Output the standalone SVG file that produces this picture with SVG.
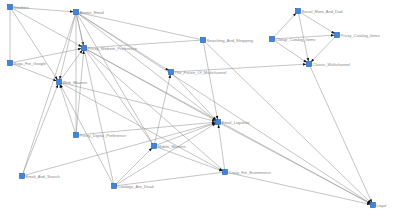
<svg xmlns="http://www.w3.org/2000/svg" width="400" height="218" viewBox="0 0 400 218">
<style>
.e{stroke:#959595;stroke-width:0.55;fill:none}
.a{marker-end:url(#ar)}
.n{fill:#3d86dc;stroke:#1d5aa8;stroke-width:0.6}
.t{font-family:"Liberation Sans",Arial,sans-serif;font-size:4px;fill:#858585}
</style>
<defs>
<marker id="ar" markerUnits="userSpaceOnUse" markerWidth="3.4" markerHeight="2.6" viewBox="0 0 3.4 2.6" refX="6" refY="1.3" orient="auto" overflow="visible">
<path d="M0,0 L3.4,1.3 L0,2.6 z" fill="#111"/>
</marker>
</defs>
<rect width="400" height="218" fill="#fff"/>
<g id="edges">
<line class="e a" x1="10" y1="7" x2="76" y2="12"/>
<line class="e" x1="10" y1="7" x2="10" y2="63"/>
<line class="e a" x1="10" y1="7" x2="84" y2="48"/>
<line class="e a" x1="10" y1="7" x2="59" y2="82"/>
<line class="e a" x1="10" y1="63" x2="84" y2="48"/>
<line class="e a" x1="10" y1="63" x2="59" y2="82"/>
<line class="e a" x1="76" y1="12" x2="84" y2="48"/>
<line class="e a" x1="76" y1="12" x2="59" y2="82"/>
<line class="e" x1="76" y1="12" x2="76" y2="135"/>
<line class="e" x1="76" y1="12" x2="22" y2="176"/>
<line class="e" x1="76" y1="12" x2="203" y2="40"/>
<line class="e" x1="76" y1="12" x2="114" y2="186"/>
<line class="e" x1="76" y1="12" x2="154" y2="146"/>
<line class="e a" x1="76" y1="12" x2="171" y2="72"/>
<line class="e a" x1="76" y1="12" x2="218" y2="122"/>
<line class="e a" x1="76" y1="12" x2="373" y2="205"/>
<line class="e a" x1="59" y1="82" x2="84" y2="48"/>
<line class="e" x1="84" y1="48" x2="203" y2="40"/>
<line class="e a" x1="76" y1="135" x2="84" y2="48"/>
<line class="e" x1="84" y1="48" x2="154" y2="146"/>
<line class="e a" x1="84" y1="48" x2="218" y2="122"/>
<line class="e" x1="84" y1="48" x2="225" y2="172"/>
<line class="e a" x1="84" y1="48" x2="373" y2="205"/>
<line class="e a" x1="76" y1="135" x2="59" y2="82"/>
<line class="e a" x1="22" y1="176" x2="59" y2="82"/>
<line class="e a" x1="114" y1="186" x2="59" y2="82"/>
<line class="e a" x1="59" y1="82" x2="218" y2="122"/>
<line class="e a" x1="59" y1="82" x2="225" y2="172"/>
<line class="e a" x1="76" y1="135" x2="218" y2="122"/>
<line class="e a" x1="22" y1="176" x2="218" y2="122"/>
<line class="e a" x1="154" y1="146" x2="218" y2="122"/>
<line class="e a" x1="114" y1="186" x2="218" y2="122"/>
<line class="e a" x1="171" y1="72" x2="218" y2="122"/>
<line class="e a" x1="203" y1="40" x2="218" y2="122"/>
<line class="e a" x1="225" y1="172" x2="218" y2="122"/>
<line class="e a" x1="154" y1="146" x2="171" y2="72"/>
<line class="e a" x1="114" y1="186" x2="154" y2="146"/>
<line class="e a" x1="154" y1="146" x2="225" y2="172"/>
<line class="e" x1="114" y1="186" x2="225" y2="172"/>
<line class="e a" x1="218" y1="122" x2="373" y2="205"/>
<line class="e a" x1="225" y1="172" x2="373" y2="205"/>
<line class="e a" x1="203" y1="40" x2="373" y2="205"/>
<line class="e a" x1="309" y1="64" x2="373" y2="205"/>
<line class="e a" x1="171" y1="72" x2="309" y2="64"/>
<line class="e a" x1="272" y1="39" x2="298" y2="11"/>
<line class="e a" x1="298" y1="11" x2="337" y2="35"/>
<line class="e a" x1="272" y1="39" x2="337" y2="35"/>
<line class="e a" x1="272" y1="39" x2="309" y2="64"/>
<line class="e a" x1="337" y1="35" x2="309" y2="64"/>
<line class="e a" x1="298" y1="11" x2="309" y2="64"/>
</g>
<g id="n-newbies"><rect class="n" x="7.5" y="4.5" width="5" height="5"/><text class="t" x="13.5" y="8.5">Newbies</text></g>
<g id="n-atomic"><rect class="n" x="73.5" y="9.5" width="5" height="5"/><text class="t" x="79.5" y="13.5">Atomic_Email</text></g>
<g id="n-pricey-website"><rect class="n" x="81.5" y="45.5" width="5" height="5"/><text class="t" x="87.5" y="49.5">Pricey_Website_Preference</text></g>
<g id="n-saga"><rect class="n" x="7.5" y="60.5" width="5" height="5"/><text class="t" x="13.5" y="64.5">Saga_For_Google</text></g>
<g id="n-web-mavens"><rect class="n" x="56.5" y="79.5" width="5" height="5"/><text class="t" x="62.5" y="83.5">Web_Mavens</text></g>
<g id="n-pricey-digital"><rect class="n" x="73.5" y="132.5" width="5" height="5"/><text class="t" x="79.5" y="136.5">Pricey_Digital_Preference</text></g>
<g id="n-searching"><rect class="n" x="200.5" y="37.5" width="5" height="5"/><text class="t" x="206.5" y="41.5">Searching_And_Shopping</text></g>
<g id="n-future"><rect class="n" x="168.5" y="69.5" width="5" height="5"/><text class="t" x="174.5" y="73.5">The_Future_Of_Multichannel</text></g>
<g id="n-social-mom"><rect class="n" x="295.5" y="8.5" width="5" height="5"/><text class="t" x="301.5" y="12.5">Social_Mom_And_Dad</text></g>
<g id="n-cheap-catalog"><rect class="n" x="269.5" y="36.5" width="5" height="5"/><text class="t" x="275.5" y="40.5">Cheap_Catalog_Items</text></g>
<g id="n-pricey-catalog"><rect class="n" x="334.5" y="32.5" width="5" height="5"/><text class="t" x="340.5" y="36.5">Pricey_Catalog_Items</text></g>
<g id="n-classic"><rect class="n" x="306.5" y="61.5" width="5" height="5"/><text class="t" x="312.5" y="65.5">Classic_Multichannel</text></g>
<g id="n-email-loyalists"><rect class="n" x="215.5" y="119.5" width="5" height="5"/><text class="t" x="221.5" y="123.5">Email_Loyalists</text></g>
<g id="n-mobile"><rect class="n" x="151.5" y="143.5" width="5" height="5"/><text class="t" x="157.5" y="147.5">Mobile_Mavens</text></g>
<g id="n-email-search"><rect class="n" x="19.5" y="173.5" width="5" height="5"/><text class="t" x="25.5" y="177.5">Email_And_Search</text></g>
<g id="n-catalogs-dead"><rect class="n" x="111.5" y="183.5" width="5" height="5"/><text class="t" x="117.5" y="187.5">Catalogs_Are_Dead</text></g>
<g id="n-crazy"><rect class="n" x="222.5" y="169.5" width="5" height="5"/><text class="t" x="228.5" y="173.5">Crazy_For_Ecommerce</text></g>
<g id="n-loyal"><rect class="n" x="370.5" y="202.5" width="5" height="5"/><text class="t" x="376.5" y="206.5">Loyal</text></g>
</svg>
